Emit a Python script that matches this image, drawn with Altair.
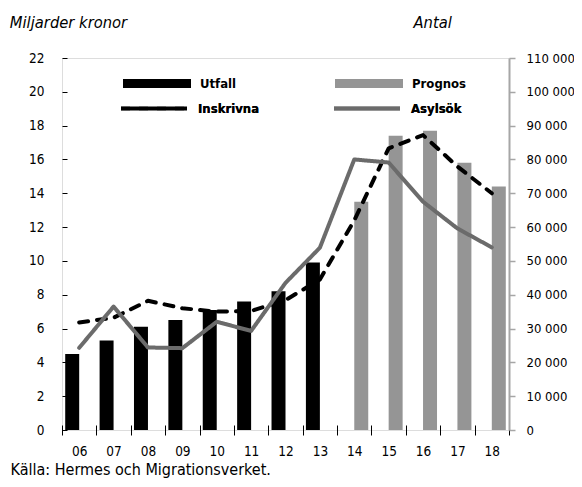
import altair as alt
import pandas as pd

years = ["06", "07", "08", "09", "10", "11", "12", "13", "14", "15", "16", "17", "18"]
utfall = [4.5, 5.3, 6.1, 6.5, 7.1, 7.6, 8.2, 9.9]
prognos = [13.5, 17.4, 17.7, 15.8, 14.4]
inskrivna = [31800, 33200, 38200, 36000, 35000, 35200, 38400, 44500, 62000, 83300, 87200, 77900, 70000]
asylsok = [24300, 36500, 24400, 24200, 32000, 29300, 43500, 53900, 80000, 79100, 67500, 59600, 54000]

bar_series = ["Utfall", "Prognos"]
line_series = ["Inskrivna", "Asylsök"]

bar_df = pd.DataFrame({
    "year": years,
    "value": utfall + prognos,
    "serie": ["Utfall"] * len(utfall) + ["Prognos"] * len(prognos),
})
line_df = pd.DataFrame({
    "year": years * 2,
    "value": inskrivna + asylsok,
    "serie": ["Inskrivna"] * len(inskrivna) + ["Asylsök"] * len(asylsok),
})

FONT = "DejaVu Sans Condensed, Liberation Sans Narrow, sans-serif"
FS = 13.5
TFS = 16

x_enc = alt.X(
    "year:N",
    sort=years,
    scale=alt.Scale(domain=years, paddingInner=0, paddingOuter=0),
    axis=alt.Axis(
        title="Källa: Hermes och Migrationsverket.",
        labelAngle=0,
        tickBand="extent",
        offset=-5,
        tickSize=10,
        tickColor="black",
        domain=False,
        labelPadding=9,
        labelFont=FONT,
        labelFontSize=FS,
        labelColor="black",
        titleFont=FONT,
        titleFontSize=TFS,
        titleFontWeight="normal",
        titleColor="black",
        titleAnchor="start",
        titleAlign="left",
        titleBaseline="alphabetic",
        titleX=-52,
        titleY=49,
    ),
)

bars = alt.Chart(bar_df).mark_bar().encode(
    x=x_enc,
    xOffset=alt.XOffset(
        "serie:N",
        scale=alt.Scale(domain=bar_series, paddingInner=0, paddingOuter=0.23),
    ),
    y=alt.Y(
        "value:Q",
        scale=alt.Scale(domain=[0, 22], nice=False),
        axis=alt.Axis(
            title="Miljarder kronor",
            values=list(range(0, 23, 2)),
            offset=-5,
            tickSize=5,
            tickColor="black",
            domain=False,
            grid=False,
            labelPadding=18,
            labelFont=FONT,
            labelFontSize=FS,
            labelColor="black",
            titleFont=FONT,
            titleFontSize=16.4,
            titleFontWeight="normal",
            titleFontStyle="italic",
            titleColor="black",
            titleAngle=0,
            titleAlign="left",
            titleBaseline="alphabetic",
            titleX=-57.7,
            titleY=-31,
        ),
    ),
    fill=alt.Fill(
        "serie:N",
        scale=alt.Scale(domain=bar_series, range=["#000000", "#959595"]),
        legend=alt.Legend(
            title=None,
            orient="none",
            legendX=61,
            legendY=-8.5,
            direction="horizontal",
            columns=2,
            columnPadding=98,
            symbolType="M-1,-0.13L1,-0.13L1,0.13L-1,0.13Z",
            symbolSize=4624,
            symbolStrokeWidth=0,
            labelFont=FONT,
            labelFontSize=13,
            labelFontWeight="bold",
            labelColor="black",
            labelOffset=9,
            padding=0,
        ),
    ),
)

line_legend = alt.Legend(
    title=None,
    orient="none",
    legendX=57,
    legendY=15.5,
    direction="horizontal",
    columns=2,
    columnPadding=66,
    symbolType="M-1,0L1,0",
    symbolSize=4356,
    symbolStrokeWidth=4,
    labelFont=FONT,
    labelFontSize=13,
    labelFontWeight="bold",
    labelColor="black",
    labelOffset=9,
    padding=0,
)

lines = alt.Chart(line_df).mark_line(strokeWidth=4, strokeCap="round", strokeJoin="round").encode(
    x=x_enc,
    y=alt.Y(
        "value:Q",
        scale=alt.Scale(domain=[0, 110000], nice=False),
        axis=alt.Axis(
            title="Antal",
            orient="right",
            values=list(range(0, 110001, 10000)),
            labelExpr="replace(format(datum.value, ','), regexp(',', 'g'), ' ')",
            tickSize=6,
            tickColor="#a6a6a6",
            tickWidth=1.5,
            domainColor="#a6a6a6",
            domainWidth=2,
            grid=False,
            labelPadding=11,
            labelFont=FONT,
            labelFontSize=13,
            labelColor="black",
            titleFont=FONT,
            titleFontSize=16.4,
            titleFontWeight="normal",
            titleFontStyle="italic",
            titleColor="black",
            titleAngle=0,
            titleAlign="left",
            titleBaseline="alphabetic",
            titleX=-96,
            titleY=-31,
        ),
    ),
    stroke=alt.Stroke(
        "serie:N",
        scale=alt.Scale(domain=line_series, range=["#000000", "#6b6b6b"]),
        legend=line_legend,
    ),
    strokeDash=alt.StrokeDash(
        "serie:N",
        scale=alt.Scale(domain=line_series, range=[[9, 9], [1, 0]]),
        legend=line_legend,
    ),
)

chart = (
    alt.layer(bars, lines)
    .resolve_scale(y="independent", fill="independent", stroke="independent")
    .properties(
        width=447,
        height=372,
        autosize=alt.AutoSizeParams(type="none"),
        padding={"left": 54, "top": 50, "right": 65, "bottom": 49},
    )
    .configure_view(stroke="black", strokeWidth=1)
    .configure(background="white")
)

chart.save("out.html", embed_options={"renderer": "svg", "actions": False})
